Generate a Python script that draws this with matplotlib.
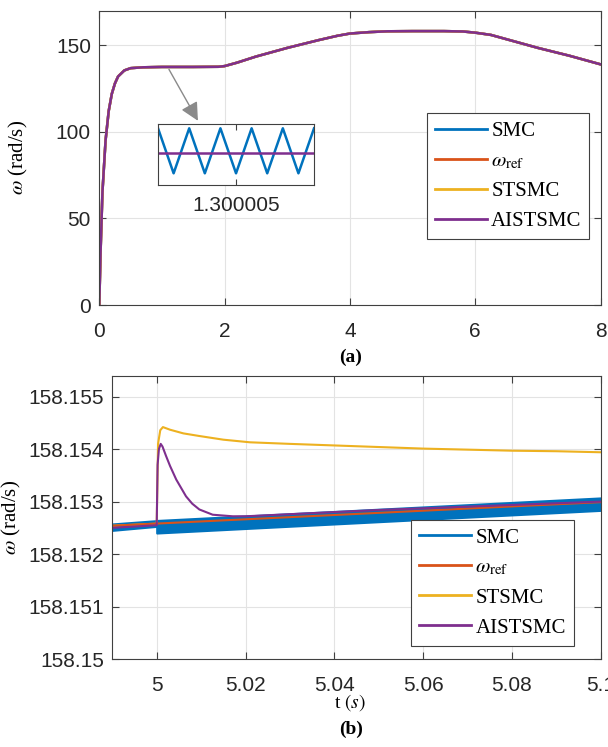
import matplotlib.pyplot as plt

plt.rcParams["font.family"] = ["Liberation Sans", "DejaVu Sans"]
plt.rcParams["mathtext.fontset"] = "stix"

BLUE = "#0072BD"
ORANGE = "#D95319"
YELLOW = "#EDB120"
PURPLE = "#7E2F8E"
EDGE = "#404040"
GRID = "#e3e3e3"

# (a) full run, all controllers overlap at this scale
t_a = [0, 0.02, 0.05, 0.1, 0.15, 0.2, 0.25, 0.3, 0.4, 0.5, 0.7, 1.0, 1.5, 1.9,
       2.0, 2.2, 2.5, 3.0, 3.5, 3.8, 4.0, 4.3, 4.6, 5.0, 5.5, 5.8, 6.0, 6.25,
       6.5, 7.0, 7.5, 8.0]
w_a = [0, 30, 65, 95, 112, 122, 128, 132, 135.5, 136.8, 137.3, 137.5, 137.5,
       137.6, 138, 140, 143.5, 148.5, 153, 155.5, 156.8, 157.6, 158.1, 158.2,
       158.2, 158.0, 157.3, 156.0, 153.5, 148.5, 144, 139]

# inset zoom around t = 1.300005
t_in = [1.3000025, 1.3000030, 1.3000035, 1.3000040, 1.3000045, 1.3000050,
        1.3000055, 1.3000060, 1.3000065, 1.3000070, 1.3000075]
smc_in = [137.5003, 137.4997, 137.5003, 137.4997, 137.5003, 137.4997,
          137.5003, 137.4997, 137.5003, 137.4997, 137.5003]
ais_in = [137.49997] * len(t_in)

# (b) zoom around the load step at t = 5 s
t_ref = [4.99, 5.1]
w_ref = [158.15254, 158.15299]

t_smc = [4.99, 5.0, 5.0, 5.1]
smc_hi = [158.152574, 158.152637, 158.152640, 158.153070]
smc_lo = [158.152452, 158.152528, 158.152401, 158.152833]
smc_mid = [158.152513, 158.152583, 158.152520, 158.152952]

t_st = [4.99, 5.0, 5.0003, 5.0008, 5.0014, 5.003, 5.006, 5.0096, 5.015, 5.021,
        5.03, 5.04, 5.05, 5.06, 5.07, 5.08, 5.09, 5.1]
w_st = [158.15254, 158.15258, 158.15410, 158.15436, 158.15442, 158.15437,
        158.15430, 158.15425, 158.15418, 158.15413, 158.15410, 158.15407,
        158.15404, 158.15401, 158.15399, 158.15397, 158.15396, 158.15394]

t_ais = [4.99, 5.0, 5.0002, 5.0005, 5.0009, 5.0013, 5.0021, 5.0030, 5.0044,
         5.0066, 5.0080, 5.0096, 5.0126, 5.0171, 5.02, 5.05, 5.1]
w_ais = [158.15250, 158.15255, 158.15370, 158.15400, 158.15410, 158.15405,
         158.15387, 158.15368, 158.15342, 158.15310, 158.15296, 158.15285,
         158.15275, 158.15272, 158.15272, 158.15284, 158.15300]

yt_b = [158.15, 158.151, 158.152, 158.153, 158.154, 158.155]
yt_b_labels = ["158.15", "158.151", "158.152", "158.153", "158.154", "158.155"]
xt_b = [5, 5.02, 5.04, 5.06, 5.08, 5.1]
xt_b_labels = ["5", "5.02", "5.04", "5.06", "5.08", "5.1"]

labels = ["SMC", r"$\omega_{\mathrm{ref}}$", "STSMC", "AISTSMC"]


def style_axes(ax):
    for s in ax.spines.values():
        s.set_color(EDGE)
        s.set_linewidth(0.8)
    ax.tick_params(direction="in", length=5, width=0.8, color=EDGE,
                   labelsize=15, labelcolor="#262626", top=True, right=True)
    ax.tick_params(axis="x", pad=12)
    ax.tick_params(axis="y", pad=6)
    ax.grid(True, color=GRID, linewidth=0.8)
    ax.set_axisbelow(True)


def add_legend(ax, handles, bbox):
    leg = ax.legend(handles, labels, loc="lower left", bbox_to_anchor=bbox,
                    mode="expand", fancybox=False, framealpha=1,
                    edgecolor=EDGE, handlelength=2.5, handletextpad=0.2,
                    labelspacing=0.5, borderaxespad=0,
                    prop={"family": "Liberation Serif", "size": 15})
    leg.get_frame().set_linewidth(0.8)


fig = plt.figure(figsize=(6.08, 7.47), dpi=100)

# ---- (a)
ax1 = fig.add_axes([0.1633, 0.5917, 0.8245, 0.3940])
style_axes(ax1)
ax1.plot(t_a, w_a, color=BLUE, lw=1.8)
ax1.plot(t_a, w_a, color=ORANGE, lw=1.8)
ax1.plot(t_a, w_a, color=YELLOW, lw=1.8)
ax1.plot(t_a, w_a, color=PURPLE, lw=1.8)
ax1.set_xlim(0, 8)
ax1.set_ylim(0, 170)
ax1.set_xticks([0, 2, 4, 6, 8])
ax1.set_yticks([0, 50, 100, 150])
ax1.set_ylabel(r"$\omega$ (rad/s)", family="Liberation Serif", fontsize=15)
ax1.yaxis.set_label_coords(-0.138, 0.5)
leg_lines = [plt.Line2D([], [], color=c, lw=2) for c in (BLUE, ORANGE, YELLOW, PURPLE)]
add_legend(ax1, leg_lines, (0.653, 0.223, 0.324, 0.403))
ax1.annotate("", xy=(1.596, 105), xytext=(1.09, 137.5),
             arrowprops=dict(arrowstyle="-|>,head_length=1.1,head_width=0.55",
                             color="#8a8a8a", lw=1.0))

ins = fig.add_axes([0.2599, 0.7523, 0.2566, 0.0813])
ins.plot(t_in, smc_in, color=BLUE, lw=1.8)
ins.plot(t_in, ais_in, color=PURPLE, lw=1.8)
ins.set_xlim(1.3000025, 1.3000075)
ins.set_ylim(137.499544, 137.500353)
ins.set_xticks([1.300005])
ins.set_xticklabels(["1.300005"])
ins.set_yticks([])
for s in ins.spines.values():
    s.set_color(EDGE)
    s.set_linewidth(0.8)
ins.tick_params(direction="in", length=4, width=0.8, color=EDGE, top=True,
                labelsize=15, labelcolor="#262626", pad=8)

fig.text(0.577, 0.522, "(a)", family="Liberation Serif", weight="bold",
         fontsize=14, ha="center", va="center")

# ---- (b)
ax2 = fig.add_axes([0.1847, 0.1178, 0.8035, 0.3793])
style_axes(ax2)
ax2.fill_between(t_smc, smc_lo, smc_hi, color=BLUE, lw=1.5, edgecolor=BLUE)
ax2.plot(t_smc, smc_mid, color=BLUE, lw=1.5)
ax2.plot(t_st, w_st, color=YELLOW, lw=1.5)
ax2.plot(t_ref, w_ref, color=ORANGE, lw=1.5)
ax2.plot(t_ais, w_ais, color=PURPLE, lw=1.5)
ax2.set_xlim(4.99, 5.1)
ax2.set_ylim(158.15, 158.1554)
ax2.set_xticks(xt_b)
ax2.set_xticklabels(xt_b_labels)
ax2.set_yticks(yt_b)
ax2.set_yticklabels(yt_b_labels)
ax2.set_ylabel(r"$\omega$ (rad/s)", family="Liberation Serif", fontsize=15)
ax2.yaxis.set_label_coords(-0.183, 0.5)
add_legend(ax2, leg_lines, (0.611, 0.046, 0.334, 0.420))

fig.text(0.576, 0.060, r"t $\mathit{(s)}$", family="Liberation Serif",
         fontsize=14, ha="center", va="center")
fig.text(0.578, 0.023, "(b)", family="Liberation Serif", weight="bold",
         fontsize=14, ha="center", va="center")

fig.savefig("out.png", dpi=100)
